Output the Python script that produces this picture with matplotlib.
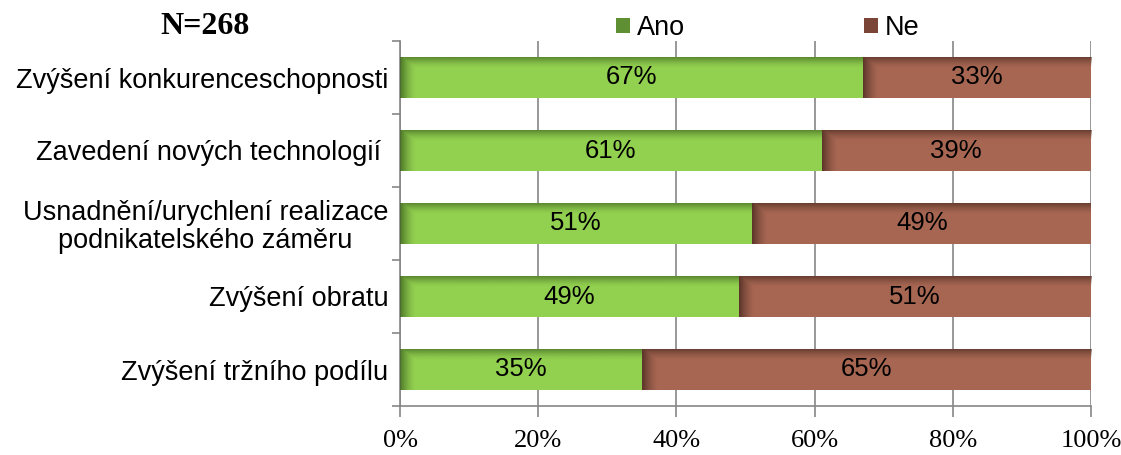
import numpy as np
import matplotlib
matplotlib.use("Agg")
import matplotlib.pyplot as plt
from matplotlib.patches import Patch
from matplotlib.colors import to_rgb

# ---------- Data ----------
categories = [
    "Zvýšení konkurenceschopnosti",
    "Zavedení nových technologií ",
    "Usnadnění/urychlení realizace\npodnikatelského záměru",
    "Zvýšení obratu",
    "Zvýšení tržního podílu",
]
ano = [67, 61, 51, 49, 35]
ne = [33, 39, 49, 51, 65]
series_names = ["Ano", "Ne"]
xticks = [0, 20, 40, 60, 80, 100]
n_label = "N=268"

GREEN = "#92d050"
GREEN_DARK = "#3f6420"
BROWN = "#a66652"
BROWN_DARK = "#4a2a20"
AXIS_GRAY = "#868686"
SANS = "Liberation Sans"
SERIF = "Liberation Serif"


def shade_bar(ax, patch, dark):
    """Overlay an Excel-like shadow: darker top edge and darker left edge."""
    x0, y0 = patch.get_x(), patch.get_y()
    w, h = patch.get_width(), patch.get_height()
    ny, nx = 60, 300
    yy = np.linspace(0, 1, ny)[:, None]          # 0 = top of bar
    xx = np.linspace(0, w, nx)[None, :]          # data units from left
    top = 0.75 * np.clip(1 - yy / 0.28, 0, 1) ** 1.5
    left = 0.8 * np.clip(1 - xx / 2.2, 0, 1) ** 1.5
    alpha = np.maximum(top, left)
    img = np.zeros((ny, nx, 4))
    img[..., :3] = to_rgb(dark)
    img[..., 3] = alpha
    im = ax.imshow(img, extent=(x0, x0 + w, y0 + h, y0), origin="upper",
                   aspect="auto", interpolation="bilinear", zorder=3)
    im.set_clip_path(patch)


fig = plt.figure(figsize=(11.21, 4.55), dpi=100)
ax = fig.add_axes([400 / 1121, 1 - 406 / 455, 691 / 1121, 365 / 455])

y = np.arange(len(categories))
h = 0.57
bars_a = ax.barh(y, ano, height=h, color=GREEN, zorder=2, linewidth=0)
bars_n = ax.barh(y, ne, left=ano, height=h, color=BROWN, zorder=2, linewidth=0)

for p in bars_a:
    shade_bar(ax, p, GREEN_DARK)
for p in bars_n:
    shade_bar(ax, p, BROWN_DARK)

for i in range(len(categories)):
    ax.text(ano[i] / 2, y[i], f"{ano[i]}%", ha="center", va="center",
            fontsize=18.5, family=SANS, zorder=5)
    ax.text(ano[i] + ne[i] / 2, y[i], f"{ne[i]}%", ha="center", va="center",
            fontsize=18.5, family=SANS, zorder=5)

ax.set_xlim(0, 100)
ax.set_ylim(len(categories) - 0.5, -0.5)

# axes styling
for s in ["top", "right"]:
    ax.spines[s].set_visible(False)
for s in ["left", "bottom"]:
    ax.spines[s].set_color(AXIS_GRAY)
    ax.spines[s].set_linewidth(1.2)

ax.set_xticks(xticks)
ax.set_xticklabels([f"{t}%" for t in xticks], family=SERIF, fontsize=19)
ax.tick_params(axis="x", direction="out", length=8, width=1.2, color=AXIS_GRAY, pad=9)
ax.grid(axis="x", color=AXIS_GRAY, linewidth=1.2, zorder=0)
ax.set_axisbelow(True)

ax.set_yticks(y)
ax.set_yticklabels(categories, family=SANS, fontsize=19.5, ha="right",
                   multialignment="center", linespacing=1.05)
ax.tick_params(axis="y", which="major", length=0, pad=8.5)
ax.set_yticks(np.arange(len(categories) + 1) - 0.5, minor=True)
ax.tick_params(axis="y", which="minor", direction="out", length=6, width=1.2,
               color=AXIS_GRAY)

# legend
handles = [Patch(facecolor="#5e8f32", edgecolor="none"),
           Patch(facecolor="#7a4536", edgecolor="none")]
fig.legend(handles, series_names, loc="center", bbox_to_anchor=(768 / 1121, 1 - 28 / 455),
           ncol=2, frameon=False, handlelength=0.52, handleheight=0.52,
           handletextpad=0.25, columnspacing=6.6, prop={"family": SANS, "size": 19.5})

fig.text(205 / 1121, 1 - 27 / 455, n_label, ha="center", va="center",
         family=SERIF, fontsize=23, fontweight="bold")

fig.savefig("out.png", dpi=100)
